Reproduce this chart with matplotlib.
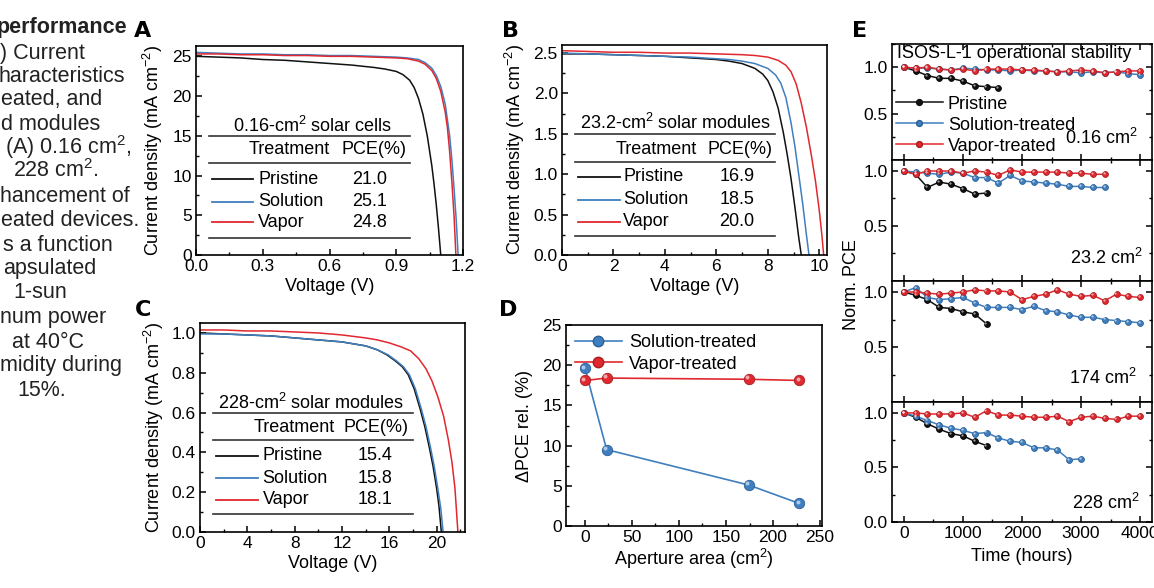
import matplotlib
matplotlib.use("Agg")
import matplotlib.pyplot as plt
from matplotlib.lines import Line2D
from matplotlib.ticker import MultipleLocator
import matplotlib.transforms as mtransforms

plt.rcParams['font.family'] = ['Liberation Sans', 'DejaVu Sans']
plt.rcParams['mathtext.fontset'] = 'custom'
plt.rcParams['mathtext.rm'] = 'Liberation Sans'
plt.rcParams['mathtext.default'] = 'regular'

W, H = 1154, 588
BLACK = '#111111'
BLUE = '#3f7fc0'
RED = '#e0282e'

# ---------------- data ----------------
# Panel A (0.16 cm2 cells)
A_V_pri = [0, 0.1, 0.2, 0.3, 0.4, 0.5, 0.6, 0.7, 0.8, 0.85, 0.9, 0.93, 0.96, 0.98, 1.0, 1.02, 1.04, 1.06, 1.07, 1.08, 1.09, 1.10]
A_J_pri = [25.0, 24.9, 24.8, 24.6, 24.5, 24.3, 24.1, 23.9, 23.6, 23.4, 23.1, 22.7, 22.0, 21.1, 19.7, 17.7, 14.9, 11.2, 8.9, 6.3, 3.3, 0.0]
A_V_sol = [0, 0.1, 0.2, 0.3, 0.4, 0.5, 0.6, 0.7, 0.8, 0.9, 0.95, 1.0, 1.03, 1.06, 1.08, 1.10, 1.12, 1.14, 1.15, 1.16, 1.17, 1.178]
A_J_sol = [25.5, 25.4, 25.3, 25.3, 25.2, 25.2, 25.1, 25.1, 25.0, 24.9, 24.8, 24.6, 24.2, 23.5, 22.6, 21.2, 19.0, 15.0, 12.0, 8.3, 4.2, 0.0]
A_V_vap = [0, 0.1, 0.2, 0.3, 0.4, 0.5, 0.6, 0.7, 0.8, 0.9, 0.95, 1.0, 1.03, 1.06, 1.08, 1.10, 1.12, 1.13, 1.14, 1.15, 1.16, 1.168]
A_J_vap = [25.3, 25.3, 25.2, 25.2, 25.1, 25.1, 25.0, 25.0, 24.9, 24.8, 24.7, 24.4, 24.0, 23.2, 22.2, 20.6, 18.0, 16.0, 13.0, 9.2, 4.8, 0.0]
A_PCE = ['21.0', '25.1', '24.8']

# Panel B (23.2 cm2 modules)
B_V_pri = [0, 1, 2, 3, 4, 5, 6, 6.5, 7, 7.5, 7.8, 8.0, 8.2, 8.4, 8.6, 8.75, 8.9, 9.05, 9.2, 9.3]
B_J_pri = [2.49, 2.49, 2.48, 2.47, 2.46, 2.44, 2.42, 2.40, 2.37, 2.31, 2.24, 2.16, 2.02, 1.82, 1.52, 1.25, 0.95, 0.60, 0.22, 0.0]
B_V_sol = [0, 1, 2, 3, 4, 5, 6, 6.5, 7, 7.5, 8.0, 8.3, 8.5, 8.7, 8.9, 9.05, 9.2, 9.35, 9.5, 9.6]
B_J_sol = [2.50, 2.49, 2.48, 2.47, 2.46, 2.45, 2.43, 2.42, 2.40, 2.37, 2.31, 2.23, 2.13, 1.95, 1.64, 1.35, 1.0, 0.65, 0.25, 0.0]
B_V_vap = [0, 1, 2, 3, 4, 5, 6, 7, 7.5, 8.0, 8.4, 8.7, 8.9, 9.1, 9.3, 9.5, 9.7, 9.85, 10.0, 10.1, 10.17]
B_J_vap = [2.53, 2.52, 2.51, 2.51, 2.50, 2.50, 2.49, 2.48, 2.47, 2.45, 2.41, 2.35, 2.27, 2.12, 1.88, 1.58, 1.22, 0.92, 0.55, 0.25, 0.0]
B_PCE = ['16.9', '18.5', '20.0']

# Panel C (228 cm2 modules)
C_V_pri = [0, 2, 4, 6, 8, 10, 12, 13, 14, 15, 15.8, 16.5, 17.1, 17.6, 18.1, 18.6, 19.0, 19.4, 19.7, 20.0, 20.2, 20.4]
C_J_pri = [1.0, 0.995, 0.99, 0.985, 0.975, 0.965, 0.955, 0.945, 0.935, 0.915, 0.89, 0.86, 0.83, 0.79, 0.72, 0.62, 0.53, 0.42, 0.33, 0.22, 0.13, 0.0]
C_V_sol = [0, 2, 4, 6, 8, 10, 12, 13, 14, 15, 15.9, 16.6, 17.2, 17.7, 18.2, 18.7, 19.1, 19.5, 19.8, 20.1, 20.35, 20.55]
C_J_sol = [0.995, 0.995, 0.99, 0.985, 0.975, 0.965, 0.955, 0.945, 0.935, 0.915, 0.89, 0.86, 0.83, 0.79, 0.72, 0.62, 0.53, 0.42, 0.33, 0.22, 0.12, 0.0]
C_V_vap = [0, 2, 4, 6, 8, 10, 12, 14, 15, 16, 17, 17.8, 18.5, 19.1, 19.6, 20.1, 20.6, 21.0, 21.3, 21.55, 21.8]
C_J_vap = [1.015, 1.015, 1.01, 1.01, 1.005, 1.0, 0.99, 0.975, 0.965, 0.95, 0.93, 0.91, 0.87, 0.82, 0.76, 0.68, 0.58, 0.46, 0.35, 0.22, 0.0]
C_PCE = ['15.4', '15.8', '18.1']

TREATMENTS = ['Pristine', 'Solution', 'Vapor']

# Panel D
D_area = [0.16, 23.2, 174, 228]
D_sol = [19.6, 9.5, 5.1, 2.8]
D_vap = [18.1, 18.4, 18.25, 18.1]

# Panel E (normalized PCE vs time)
t_8 = [0, 200, 400, 600, 800, 1000, 1200, 1400]
t_9 = [0, 200, 400, 600, 800, 1000, 1200, 1400, 1600]
t_16 = [0, 200, 400, 600, 800, 1000, 1200, 1400, 1600, 1800, 2000, 2200, 2400, 2600, 2800, 3000]
t_18 = [0, 200, 400, 600, 800, 1000, 1200, 1400, 1600, 1800, 2000, 2200, 2400, 2600, 2800, 3000, 3200, 3400]
t_21 = [0, 200, 400, 600, 800, 1000, 1200, 1400, 1600, 1800, 2000, 2200, 2400, 2600, 2800, 3000, 3200, 3400, 3600, 3800, 4000]

E1_pri = [1.0, 0.96, 0.91, 0.88, 0.88, 0.85, 0.80, 0.79, 0.78]
E1_sol = [1.0, 0.99, 0.99, 0.98, 0.97, 0.99, 0.98, 0.97, 0.97, 0.96, 0.97, 0.96, 0.96, 0.95, 0.95, 0.94, 0.95, 0.94, 0.95, 0.93, 0.92]
E1_vap = [1.0, 0.99, 1.0, 0.98, 0.97, 0.98, 0.96, 0.98, 0.98, 0.98, 0.97, 0.97, 0.96, 0.95, 0.96, 0.97, 0.96, 0.94, 0.95, 0.96, 0.96]
E2_pri = [1.0, 0.97, 0.85, 0.90, 0.88, 0.84, 0.79, 0.80]
E2_sol = [1.0, 0.99, 0.98, 0.97, 0.99, 0.98, 0.94, 0.94, 0.89, 0.96, 0.91, 0.90, 0.89, 0.88, 0.86, 0.86, 0.85, 0.85]
E2_vap = [1.0, 0.97, 1.0, 1.0, 1.0, 0.98, 1.0, 0.99, 0.96, 1.01, 0.99, 0.99, 0.99, 0.99, 0.98, 0.98, 0.97, 0.97]
E3_pri = [1.0, 0.97, 0.93, 0.86, 0.85, 0.82, 0.80, 0.71]
E3_sol = [1.0, 1.04, 0.95, 0.93, 0.94, 0.95, 0.90, 0.86, 0.86, 0.86, 0.84, 0.87, 0.83, 0.82, 0.79, 0.77, 0.77, 0.75, 0.74, 0.73, 0.72]
E3_vap = [1.0, 1.0, 0.99, 0.98, 0.99, 1.0, 1.02, 1.01, 1.01, 1.0, 0.93, 0.96, 0.98, 1.02, 0.98, 0.96, 0.97, 0.92, 0.98, 0.96, 0.95]
E4_pri = [1.0, 0.96, 0.90, 0.85, 0.81, 0.79, 0.74, 0.70]
E4_sol = [1.0, 0.97, 0.93, 0.89, 0.86, 0.84, 0.81, 0.82, 0.77, 0.74, 0.73, 0.68, 0.68, 0.66, 0.57, 0.58]
E4_vap = [1.0, 1.0, 0.99, 0.99, 0.99, 1.0, 0.96, 1.02, 0.98, 0.98, 0.97, 0.96, 0.96, 0.97, 0.92, 0.96, 0.97, 0.95, 0.94, 0.97, 0.97]
E_areas = ['0.16 cm$^2$', '23.2 cm$^2$', '174 cm$^2$', '228 cm$^2$']

CAPTION = [
    ('performance', -3, 28, True),
    (') Current', 0, 53, False),
    ('haracteristics', -1, 77, False),
    ('eated, and', 1, 100, False),
    ('d modules', 1, 124, False),
    ('(A) 0.16 cm$^2$,', 5, 147, False),
    ('228 cm$^2$.', 13, 171, False),
    ('hancement of', 0, 197, False),
    ('eated devices.', 1, 220, False),
    ('s a function', 3, 245, False),
    ('apsulated', 3, 268, False),
    ('1-sun', 13, 293, False),
    ('num power', 0, 317, False),
    ('at 40°C', 12, 342, False),
    ('midity during', 0, 365, False),
    ('15%.', 17, 390, False),
]

# ---------------- figure ----------------
fig = plt.figure(figsize=(W / 100, H / 100), dpi=100)
FS = 12.5


def fx(x):
    return x / W


def fy(y):
    return 1 - y / H


def add_ax(x0, y0, x1, y1):
    return fig.add_axes([fx(x0), fy(y1), fx(x1) - fx(x0), (y1 - y0) / H])


def style(ax, right_top=False):
    for s in ax.spines.values():
        s.set_linewidth(1.2)
    ax.tick_params(which='both', direction='in', labelsize=FS, top=right_top, right=right_top, pad=3)
    ax.tick_params(which='major', length=4.5, width=1.1)
    ax.tick_params(which='minor', length=2.5, width=1.0)


def ftext(x, y, s, **kw):
    fig.text(fx(x), fy(y), s, **kw)


def fline(x0, x1, y, color, lw):
    fig.add_artist(Line2D([fx(x0), fx(x1)], [fy(y), fy(y)], color=color, lw=lw, transform=fig.transFigure))


def table(title, tx, ty, lx0, lx1, ylines, hy, treat_r, pce_c, rows_y, leg_x0, leg_x1, lab_x, val_c, pces):
    ftext(tx, ty, title, ha='center', va='center', fontsize=FS + 0.5)
    for yl in ylines:
        fline(lx0, lx1, yl, '#333333', 1.2)
    ftext(treat_r, hy, 'Treatment', ha='right', va='center', fontsize=FS + 0.5)
    ftext(pce_c, hy, 'PCE(%)', ha='center', va='center', fontsize=FS + 0.5)
    for name, col, yy, p in zip(TREATMENTS, [BLACK, BLUE, RED], rows_y, pces):
        fline(leg_x0, leg_x1, yy, col, 1.3)
        ftext(lab_x, yy, name, ha='left', va='center', fontsize=FS + 0.5)
        ftext(val_c, yy, p, ha='center', va='center', fontsize=FS + 0.5)


# caption fragment on the left
for s, x, y, b in CAPTION:
    ftext(x, y, s, ha='left', va='center', fontsize=15.5, fontweight='bold' if b else 'normal', color='#222222')

# Panel letters
for s, x, y in [('A', 143, 31), ('B', 510, 31), ('C', 143, 310), ('D', 508, 310), ('E', 860, 31)]:
    ftext(x, y, s, ha='center', va='center', fontsize=16, fontweight='bold', family='Liberation Sans Narrow')

# ---- Panel A
axA = add_ax(196, 46, 463, 255)
axA.plot(A_V_pri, A_J_pri, color=BLACK, lw=1.1)
axA.plot(A_V_sol, A_J_sol, color=BLUE, lw=1.1)
axA.plot(A_V_vap, A_J_vap, color=RED, lw=1.1)
axA.set_xlim(0, 1.2)
axA.set_ylim(0, 26.3)
axA.xaxis.set_major_locator(MultipleLocator(0.3))
axA.xaxis.set_minor_locator(MultipleLocator(0.15))
axA.yaxis.set_major_locator(MultipleLocator(5))
axA.yaxis.set_minor_locator(MultipleLocator(2.5))
axA.xaxis.set_major_formatter(matplotlib.ticker.FormatStrFormatter('%.1f'))
style(axA)
axA.set_xlabel('Voltage (V)', fontsize=FS + 0.5, labelpad=3)
axA.set_ylabel('Current density (mA cm$^{-2}$)', fontsize=FS + 0.5, labelpad=5)
table('0.16-cm$^2$ solar cells', 313, 126, 209, 410, [135.7, 163.3, 237.7], 150, 330, 374,
      [179.3, 201.7, 222.3], 211.7, 253.3, 258.3, 370, A_PCE)

# ---- Panel B
axB = add_ax(562, 45, 827, 255)
axB.plot(B_V_pri, B_J_pri, color=BLACK, lw=1.1)
axB.plot(B_V_sol, B_J_sol, color=BLUE, lw=1.1)
axB.plot(B_V_vap, B_J_vap, color=RED, lw=1.1)
axB.set_xlim(0, 10.3)
axB.set_ylim(0, 2.6)
axB.xaxis.set_major_locator(MultipleLocator(2))
axB.xaxis.set_minor_locator(MultipleLocator(1))
axB.yaxis.set_major_locator(MultipleLocator(0.5))
axB.yaxis.set_minor_locator(MultipleLocator(0.25))
axB.yaxis.set_major_formatter(matplotlib.ticker.FormatStrFormatter('%.1f'))
style(axB)
axB.set_xlabel('Voltage (V)', fontsize=FS + 0.5, labelpad=3)
axB.set_ylabel('Current density (mA cm$^{-2}$)', fontsize=FS + 0.5, labelpad=5)
table('23.2-cm$^2$ solar modules', 676, 123.3, 575, 775, [134.3, 161.7, 236], 150, 697, 740,
      [176.7, 200, 221.7], 578, 620, 623.3, 736.7, B_PCE)

# ---- Panel C
axC = add_ax(200, 323, 465, 532)
axC.plot(C_V_pri, C_J_pri, color=BLACK, lw=1.1)
axC.plot(C_V_sol, C_J_sol, color=BLUE, lw=1.1)
axC.plot(C_V_vap, C_J_vap, color=RED, lw=1.1)
axC.set_xlim(0, 22.4)
axC.set_ylim(0, 1.05)
axC.xaxis.set_major_locator(MultipleLocator(4))
axC.xaxis.set_minor_locator(MultipleLocator(2))
axC.yaxis.set_major_locator(MultipleLocator(0.2))
axC.yaxis.set_minor_locator(MultipleLocator(0.1))
axC.yaxis.set_major_formatter(matplotlib.ticker.FormatStrFormatter('%.1f'))
style(axC)
axC.set_xlabel('Voltage (V)', fontsize=FS + 0.5, labelpad=3)
axC.set_ylabel('Current density (mA cm$^{-2}$)', fontsize=FS + 0.5, labelpad=4)
table('228-cm$^2$ solar modules', 311, 402.7, 212.7, 412.7, [413.3, 440, 514.3], 427.7, 335, 376,
      [456, 478.3, 500], 216, 258.3, 262.7, 375, C_PCE)


def sphere_plot(ax, x, y, color, edge, ms, lw, label=None):
    ax.plot(x, y, '-', color=color, lw=lw, zorder=2)
    ax.plot(x, y, 'o', color=color, ms=ms, mec=edge, mew=0.6, zorder=3, label=label)
    hl = mtransforms.offset_copy(ax.transData, fig=fig, x=-ms * 0.18, y=ms * 0.18, units='points')
    ax.plot(x, y, 'o', color='white', ms=ms * 0.38, mew=0, alpha=0.6, transform=hl, zorder=4)


# ---- Panel D
axD = add_ax(566, 325, 822, 526)
sphere_plot(axD, D_area, D_sol, BLUE, '#2b5f96', 7.5, 1.2, 'Solution-treated')
sphere_plot(axD, D_area, D_vap, RED, '#a81d22', 7.5, 1.2, 'Vapor-treated')
axD.set_xlim(-20, 252)
axD.set_ylim(0, 25)
axD.xaxis.set_major_locator(MultipleLocator(50))
axD.xaxis.set_minor_locator(MultipleLocator(25))
axD.yaxis.set_major_locator(MultipleLocator(5))
axD.yaxis.set_minor_locator(MultipleLocator(2.5))
style(axD)
axD.set_xlabel('Aperture area (cm$^2$)', fontsize=FS + 0.5, labelpad=1)
axD.set_ylabel('ΔPCE rel. (%)', fontsize=FS + 0.5, labelpad=7)
hD = [Line2D([], [], color=BLUE, lw=1.2, marker='o', ms=7.5, mec='#2b5f96'),
      Line2D([], [], color=RED, lw=1.2, marker='o', ms=7.5, mec='#a81d22')]
axD.legend(hD, ['Solution-treated', 'Vapor-treated'], loc='upper left', frameon=False,
           fontsize=FS + 0.5, handlelength=2.6, handletextpad=0.4, borderaxespad=0.1,
           labelspacing=0.25, bbox_to_anchor=(0.0, 1.0))

# ---- Panel E
E_bounds = [(44, 160), (160, 281), (281, 402), (402, 522)]
E_data = [(t_9, E1_pri, t_21, E1_sol, t_21, E1_vap),
          (t_8, E2_pri, t_18, E2_sol, t_18, E2_vap),
          (t_8, E3_pri, t_21, E3_sol, t_21, E3_vap),
          (t_8, E4_pri, t_16, E4_sol, t_21, E4_vap)]
E_label_pos = [(1138, 138), (1143, 258), (1137, 378), (1140, 503)]
axesE = []
for i, ((y0, y1), d) in enumerate(zip(E_bounds, E_data)):
    ax = add_ax(892, y0, 1152, y1)
    axesE.append(ax)
    sphere_plot(ax, d[0], d[1], BLACK, '#000000', 4.2, 1.1)
    sphere_plot(ax, d[2], d[3], BLUE, '#2b5f96', 4.2, 1.1)
    sphere_plot(ax, d[4], d[5], RED, '#a81d22', 4.2, 1.1)
    ax.set_xlim(-200, 4200)
    if i == 0:
        ax.set_ylim(0.0, 1.25)
    else:
        ax.set_ylim(0.0, 1.1)
    ax.xaxis.set_major_locator(MultipleLocator(1000))
    ax.xaxis.set_minor_locator(MultipleLocator(500))
    ax.set_yticks([0.0, 0.5, 1.0] if i == 3 else [0.5, 1.0])
    ax.yaxis.set_minor_locator(MultipleLocator(0.25))
    ax.yaxis.set_major_formatter(matplotlib.ticker.FormatStrFormatter('%.1f'))
    style(ax, right_top=True)
    if i < 3:
        ax.tick_params(labelbottom=False)
    ftext(E_label_pos[i][0], E_label_pos[i][1], E_areas[i], ha='right', va='center', fontsize=FS + 0.5)

axesE[3].set_xlabel('Time (hours)', fontsize=FS + 0.5, labelpad=5)
ftext(897, 58.5, 'ISOS-L-1 operational stability', ha='left', va='baseline', fontsize=FS + 0.5)
ftext(852, 285, 'Norm. PCE', ha='center', va='center', rotation=90, fontsize=FS + 0.5)
hE = [Line2D([], [], color=BLACK, lw=1.1, marker='o', ms=4.2),
      Line2D([], [], color=BLUE, lw=1.1, marker='o', ms=4.2, mec='#2b5f96'),
      Line2D([], [], color=RED, lw=1.1, marker='o', ms=4.2, mec='#a81d22')]
legE = fig.legend(hE, ['Pristine', 'Solution-treated', 'Vapor-treated'], loc='upper left',
                  bbox_to_anchor=(fx(892), fy(92)), frameon=False, fontsize=FS + 0.5,
                  handlelength=2.6, handletextpad=0.3, labelspacing=0.22, borderaxespad=0.0,
                  borderpad=0.2)

fig.savefig('out.png', dpi=100)
